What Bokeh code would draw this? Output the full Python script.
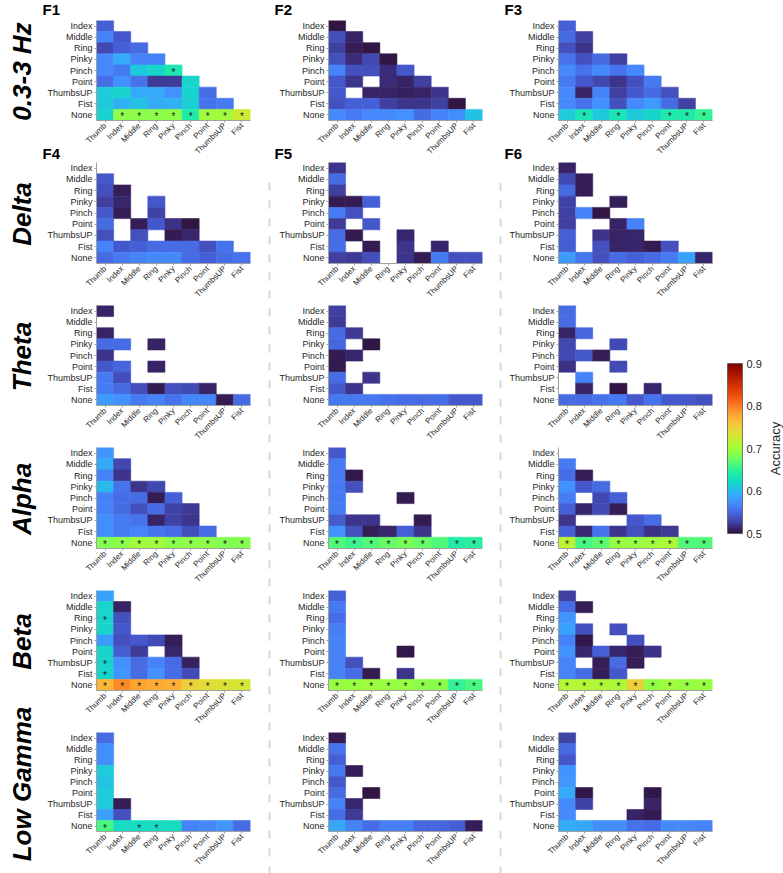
import math
from bokeh.plotting import figure
from bokeh.models import (ColumnDataSource, FactorRange, LinearColorMapper, ColorBar,
                          FixedTicker, Label, Range1d, Title)
from bokeh.layouts import row, column
from bokeh.palettes import Turbo256
from bokeh.core.properties import value
from bokeh.embed import file_html
from bokeh.resources import INLINE

# ---------------- data ----------------
ROWS = ["Index", "Middle", "Ring", "Pinky", "Pinch", "Point", "ThumbsUP", "Fist", "None"]
COLS = ["Thumb", "Index", "Middle", "Ring", "Pinky", "Pinch", "Point", "ThumbsUP", "Fist"]
BANDS = ["0.3-3 Hz", "Delta", "Theta", "Alpha", "Beta", "Low Gamma"]
PANEL_TAGS = [["F1", "F2", "F3"], ["F4", "F5", "F6"]]
CBAR_TICKS = [0.5, 0.6, 0.7, 0.8, 0.9]
CBAR_TITLE = "Accuracy"
N = None

slow_1 = [[0.545],
          [0.565, 0.540],
          [0.530, 0.545, 0.550],
          [0.570, 0.590, 0.565, 0.565],
          [0.570, 0.560, 0.610, 0.620, 0.638],
          [0.552, 0.575, 0.555, 0.522, 0.522, 0.620],
          [0.612, 0.620, 0.590, 0.590, 0.575, 0.618, 0.552],
          [0.610, 0.595, 0.605, 0.590, 0.595, 0.615, 0.555, 0.560],
          [0.618, 0.690, 0.690, 0.690, 0.690, 0.642, 0.700, 0.700, 0.725]]
slow_1_sig = [("Pinch", "Pinky"), ("None", "Index"), ("None", "Middle"), ("None", "Ring"),
              ("None", "Pinky"), ("None", "Pinch"), ("None", "Point"), ("None", "ThumbsUP"),
              ("None", "Fist")]

slow_2 = [[0.503],
          [0.535, 0.510],
          [0.525, 0.507, 0.503],
          [0.535, 0.515, 0.530, 0.502],
          [0.565, 0.535, 0.535, 0.515, 0.540],
          [0.540, 0.520, N, 0.515, 0.510, 0.525],
          [0.540, N, 0.510, 0.510, 0.508, 0.510, 0.520],
          [0.535, 0.545, 0.545, 0.525, 0.520, 0.520, 0.525, 0.503],
          [0.570, 0.560, 0.570, 0.570, 0.575, 0.550, 0.565, 0.572, 0.605]]
slow_2_sig = []

slow_3 = [[0.545],
          [0.550, 0.525],
          [0.535, 0.520, N],
          [0.555, 0.535, 0.550, 0.525],
          [0.570, 0.555, 0.570, 0.555, 0.570],
          [0.560, 0.540, 0.530, 0.520, 0.535, 0.560],
          [0.570, 0.510, 0.565, 0.525, 0.540, 0.550, 0.535],
          [0.570, 0.555, 0.575, 0.535, 0.570, 0.580, 0.550, 0.525],
          [0.612, 0.635, 0.610, 0.635, 0.610, 0.620, 0.640, 0.640, 0.652]]
slow_3_sig = [("None", "Index"), ("None", "Ring"), ("None", "Point"), ("None", "ThumbsUP"),
              ("None", "Fist")]

delta_1 = [[N],
           [0.540, N],
           [0.535, 0.507, N],
           [0.525, 0.512, N, 0.540],
           [0.540, 0.507, N, 0.528, N],
           [0.550, N, 0.507, 0.540, 0.518, 0.503],
           [0.535, N, 0.535, N, 0.505, 0.512, N],
           [0.565, 0.540, 0.545, 0.550, 0.550, 0.550, 0.535, 0.555],
           [0.550, 0.560, 0.565, 0.570, 0.570, 0.550, 0.545, 0.553, 0.556]]
delta_1_sig = []

delta_2 = [[0.520],
           [0.550, N],
           [0.525, N, N],
           [0.505, 0.505, 0.545, N],
           [0.560, 0.535, N, N, N],
           [0.522, N, 0.540, N, N, N],
           [0.553, 0.505, N, N, 0.512, N, N],
           [0.553, N, 0.505, N, 0.520, N, 0.512, N],
           [0.525, 0.522, 0.533, N, 0.520, 0.505, 0.560, 0.535, 0.535]]
delta_2_sig = []

delta_3 = [[0.510],
           [0.532, 0.507],
           [0.550, 0.507, N],
           [0.527, N, N, 0.507],
           [0.525, 0.565, 0.503, N, N],
           [0.525, N, N, 0.510, 0.565, N],
           [0.545, N, 0.520, 0.510, 0.512, N, N],
           [0.543, N, 0.535, 0.510, 0.512, 0.505, 0.535, N],
           [0.580, 0.557, 0.535, 0.550, 0.545, 0.550, 0.560, 0.585, 0.512]]
delta_3_sig = []

theta_1 = [[0.510],
           [N, N],
           [0.510, N, N],
           [0.553, 0.550, N, 0.510],
           [0.520, N, N, N, N],
           [0.540, 0.548, N, 0.510, N, N],
           [0.560, 0.533, N, N, N, N, N],
           [0.560, 0.550, 0.533, 0.505, 0.535, 0.532, 0.510, N],
           [0.580, 0.575, 0.560, 0.565, 0.556, 0.568, 0.568, 0.505, 0.550]]
theta_1_sig = []

theta_2 = [[0.525],
           [0.522, N],
           [0.550, 0.522, N],
           [0.548, N, 0.503, N],
           [0.506, 0.512, N, N, N],
           [0.506, N, N, N, N, N],
           [0.553, N, 0.520, N, N, N, N],
           [0.540, 0.520, N, N, N, N, N, N],
           [0.558, 0.558, 0.558, 0.555, 0.552, 0.550, 0.553, 0.540, 0.540]]
theta_2_sig = []

theta_3 = [[0.550],
           [0.553, N],
           [0.510, 0.547, N],
           [0.530, N, N, 0.532],
           [0.532, 0.540, 0.507, N, N],
           [0.518, N, N, 0.532, N, N],
           [N, 0.565, N, N, N, N, N],
           [N, 0.510, N, 0.503, N, 0.512, N, N],
           [0.550, 0.550, 0.556, 0.560, 0.540, 0.555, 0.540, 0.540, 0.535]]
theta_3_sig = []

alpha_1 = [[0.578],
           [0.590, 0.530],
           [0.565, 0.520, N],
           [0.600, 0.556, 0.520, 0.530],
           [0.565, 0.552, 0.550, 0.505, 0.545],
           [0.565, 0.550, 0.535, 0.550, 0.528, 0.522],
           [0.573, 0.560, 0.556, 0.510, 0.527, 0.520, N],
           [0.573, 0.560, 0.567, 0.557, 0.553, 0.533, 0.553, N],
           [0.685, 0.688, 0.700, 0.700, 0.688, 0.690, 0.690, 0.683, 0.685]]
alpha_1_sig = [("None", "Thumb"), ("None", "Index"), ("None", "Middle"), ("None", "Ring"),
               ("None", "Pinky"), ("None", "Pinch"), ("None", "Point"), ("None", "ThumbsUP"),
               ("None", "Fist")]

alpha_2 = [[0.540],
           [0.560, N],
           [0.560, 0.504, N],
           [0.560, 0.535, N, N],
           [0.560, N, N, N, 0.506],
           [0.560, N, N, N, N, N],
           [0.542, 0.520, 0.520, N, N, 0.505, N],
           [0.575, 0.535, 0.507, 0.512, 0.545, 0.520, N, N],
           [0.665, 0.655, 0.665, 0.672, 0.680, 0.672, 0.665, 0.642, 0.648]]
alpha_2_sig = [("None", "Thumb"), ("None", "Index"), ("None", "Middle"), ("None", "Ring"),
               ("None", "Pinky"), ("None", "Pinch"), ("None", "ThumbsUP"), ("None", "Fist")]

alpha_3 = [[N],
           [0.560, N],
           [0.552, 0.507, N],
           [0.575, 0.540, 0.550, N],
           [0.562, N, 0.530, 0.545, N],
           [0.545, 0.512, 0.532, 0.507, N, N],
           [0.520, N, N, N, 0.540, 0.550, N],
           [0.545, 0.513, 0.555, 0.520, 0.535, 0.518, 0.522, N],
           [0.715, 0.660, 0.670, 0.695, 0.695, 0.700, 0.705, 0.665, 0.665]]
alpha_3_sig = [("None", "Thumb"), ("None", "Index"), ("None", "Middle"), ("None", "Ring"),
               ("None", "Pinky"), ("None", "Pinch"), ("None", "Point"), ("None", "ThumbsUP"),
               ("None", "Fist")]

beta_1 = [[0.585],
          [0.620, 0.510],
          [0.620, 0.535, N],
          [0.620, 0.540, N, N],
          [0.580, 0.535, 0.540, 0.532, 0.507],
          [0.620, 0.543, 0.522, N, 0.512, N],
          [0.620, 0.575, 0.550, 0.565, 0.550, 0.508, N],
          [0.620, 0.578, 0.550, 0.575, 0.550, 0.532, N, N],
          [0.770, 0.795, 0.780, 0.775, 0.772, 0.750, 0.740, 0.735, 0.730]]
beta_1_sig = [("Ring", "Thumb"), ("ThumbsUP", "Thumb"), ("Fist", "Thumb"),
              ("None", "Thumb"), ("None", "Index"), ("None", "Middle"), ("None", "Ring"),
              ("None", "Pinky"), ("None", "Pinch"), ("None", "Point"), ("None", "ThumbsUP"),
              ("None", "Fist")]

beta_2 = [[0.545],
          [0.560, N],
          [0.552, N, N],
          [0.563, N, N, N],
          [0.565, N, N, N, N],
          [0.565, N, N, N, 0.504, N],
          [0.565, 0.535, N, N, N, N, N],
          [0.565, 0.553, 0.506, N, 0.520, N, N, N],
          [0.695, 0.695, 0.698, 0.695, 0.695, 0.688, 0.688, 0.650, 0.662]]
beta_2_sig = [("None", "Thumb"), ("None", "Index"), ("None", "Middle"), ("None", "Ring"),
              ("None", "Pinky"), ("None", "Pinch"), ("None", "Point"), ("None", "ThumbsUP"),
              ("None", "Fist")]

beta_3 = [[0.525],
          [0.553, 0.507],
          [0.578, N, N],
          [0.585, 0.535, N, 0.535],
          [0.565, 0.504, N, N, 0.535],
          [0.578, 0.512, 0.545, 0.512, 0.507, 0.518],
          [0.565, N, 0.507, 0.550, 0.507, N, N],
          [0.567, 0.550, 0.507, 0.540, N, N, N, N],
          [0.710, 0.710, 0.708, 0.705, 0.750, 0.692, 0.697, 0.695, 0.695]]
beta_3_sig = [("None", "Thumb"), ("None", "Index"), ("None", "Middle"), ("None", "Ring"),
              ("None", "Pinky"), ("None", "Pinch"), ("None", "Point"), ("None", "ThumbsUP"),
              ("None", "Fist")]

gamma_1 = [[0.550],
           [0.573, N],
           [0.573, N, N],
           [0.612, N, N, N],
           [0.605, N, N, N, N],
           [0.612, N, N, N, N, N],
           [0.612, 0.507, N, N, N, N, N],
           [0.583, 0.535, N, N, N, N, N, N],
           [0.660, 0.625, 0.625, 0.625, 0.625, 0.565, 0.570, 0.578, 0.550]]
gamma_1_sig = [("None", "Thumb"), ("None", "Middle"), ("None", "Ring")]

gamma_2 = [[0.505],
           [0.556, N],
           [0.545, N, N],
           [0.558, 0.507, N, N],
           [0.540, N, N, N, N],
           [0.550, N, 0.503, N, N, N],
           [0.565, 0.512, N, N, N, N, N],
           [0.553, 0.522, N, N, N, N, N, N],
           [0.588, 0.565, 0.553, 0.563, 0.563, 0.548, 0.548, 0.543, 0.507]]
gamma_2_sig = []

gamma_3 = [[0.527],
           [0.550, N],
           [0.540, N, N],
           [0.578, N, N, N],
           [0.578, N, N, N, N],
           [0.590, 0.504, N, N, N, 0.504],
           [0.570, 0.527, N, N, N, 0.510, N],
           [0.570, N, N, N, 0.510, 0.506, N, N],
           [0.592, 0.588, 0.572, 0.572, 0.555, 0.552, 0.570, 0.570, 0.565]]
gamma_3_sig = []

PANELS = [[(slow_1, slow_1_sig), (slow_2, slow_2_sig), (slow_3, slow_3_sig)],
          [(delta_1, delta_1_sig), (delta_2, delta_2_sig), (delta_3, delta_3_sig)],
          [(theta_1, theta_1_sig), (theta_2, theta_2_sig), (theta_3, theta_3_sig)],
          [(alpha_1, alpha_1_sig), (alpha_2, alpha_2_sig), (alpha_3, alpha_3_sig)],
          [(beta_1, beta_1_sig), (beta_2, beta_2_sig), (beta_3, beta_3_sig)],
          [(gamma_1, gamma_1_sig), (gamma_2, gamma_2_sig), (gamma_3, gamma_3_sig)]]

# ---------------- layout constants ----------------
FONT = "Liberation Sans"
TXT = "#262626"
ROW_FIG_H = [162, 143, 142, 143, 142, 141]
ROW_TOP = [20, 0, 0, 0, 0, 0]
ROW_FRAME_H = [102, 103, 102, 103, 102, 103]
COL_FIG_W = [226, 224, 218]
COL_LEFT = [56, 56, 54]
FRAME_W = 154
TITLE_W = 40
SEP_W = [6, 8]
CBAR_W = 61
TOTAL_H = sum(ROW_FIG_H)

mapper = LinearColorMapper(palette=Turbo256, low=0.5, high=0.9)


def tag_title(text, standoff, valign):
    return Title(text=text, align="left", offset=-54, standoff=standoff, vertical_align=valign,
                 text_font=FONT, text_font_style="bold", text_font_size="15px",
                 text_color="#000000")


def make_panel(ri, ci):
    vals, sig = PANELS[ri][ci]
    xs, ys, acc = [], [], []
    for i, rname in enumerate(ROWS):
        for j, v in enumerate(vals[i]):
            if v is not None:
                xs.append(COLS[j])
                ys.append(rname)
                acc.append(v)
    src = ColumnDataSource(dict(x=xs, y=ys, acc=acc))
    bottom = ROW_FIG_H[ri] - ROW_TOP[ri] - ROW_FRAME_H[ri]
    p = figure(width=COL_FIG_W[ci], height=ROW_FIG_H[ri],
               x_range=FactorRange(factors=COLS), y_range=FactorRange(factors=ROWS[::-1]),
               output_backend="svg", toolbar_location=None,
               min_border_left=COL_LEFT[ci], min_border_right=COL_FIG_W[ci] - COL_LEFT[ci] - FRAME_W,
               min_border_top=ROW_TOP[ri], min_border_bottom=bottom)
    p.outline_line_color = None
    p.xgrid.visible = False
    p.ygrid.visible = False
    p.rect(x="x", y="y", width=1, height=1, source=src,
           fill_color={"field": "acc", "transform": mapper},
           line_color={"field": "acc", "transform": mapper}, line_width=0.6)
    if sig:
        ssrc = ColumnDataSource(dict(x=[s[1] for s in sig], y=[s[0] for s in sig],
                                     t=["*"] * len(sig)))
        p.text(x="x", y="y", text="t", source=ssrc, text_align="center",
               text_baseline="middle", text_font=value(FONT), text_font_size="10px",
               text_color="#1a1a1a", y_offset=2)
    for ax in (p.xaxis[0], p.yaxis[0]):
        ax.axis_line_color = "#a0a0a0"
        ax.axis_line_width = 1
        ax.major_tick_line_color = "#a0a0a0"
        ax.major_tick_in = 0
        ax.major_tick_out = 2
        ax.minor_tick_line_color = None
        ax.major_label_standoff = 2
        ax.major_label_text_color = TXT
        ax.major_label_text_font = FONT
    p.yaxis.major_label_text_font_size = "9px"
    p.xaxis.major_label_text_font_size = "8px"
    p.xaxis.major_label_orientation = math.pi / 4
    if ri == 0:
        # panel tags of the first two rows sit in the first row's borders
        p.add_layout(tag_title(PANEL_TAGS[0][ci], 1, "top"), "above")
        p.add_layout(tag_title(PANEL_TAGS[1][ci], -36, "top"), "below")
    return p


figs = [[make_panel(ri, ci) for ci in range(3)] for ri in range(6)]
cols = [column(*[figs[ri][ci] for ri in range(6)], spacing=0) for ci in range(3)]


def strip(width, x_end):
    s = figure(width=width, height=TOTAL_H, x_range=Range1d(0, x_end),
               y_range=Range1d(TOTAL_H, 0), output_backend="svg", toolbar_location=None,
               x_axis_location=None, y_axis_location=None,
               min_border_left=0, min_border_right=0, min_border_top=0, min_border_bottom=0)
    s.outline_line_color = None
    s.grid.visible = False
    return s


# band titles
tfig = strip(TITLE_W, TITLE_W)
ytop = 0
for ri, band in enumerate(BANDS):
    yc = ytop + ROW_TOP[ri] + ROW_FRAME_H[ri] / 2
    tfig.add_layout(Label(x=21, y=yc, text=band, angle=math.pi / 2, text_align="center",
                          text_baseline="middle", text_font=FONT,
                          text_font_style="bold italic", text_font_size="26px",
                          text_color="#000000"))
    ytop += ROW_FIG_H[ri]

# dashed separators
seps = []
sep_start = ROW_FIG_H[0] + 20
for w in SEP_W:
    s = strip(w, w)
    s.segment(x0=[w / 2], y0=[sep_start], x1=[w / 2], y1=[TOTAL_H], line_color="#d6d6d6",
              line_width=2, line_dash="8 10")
    seps.append(s)

# colour bar
CB_TOP = 363
CB_H = 170
cfig = strip(CBAR_W, CBAR_W)
cb = ColorBar(color_mapper=mapper, ticker=FixedTicker(ticks=CBAR_TICKS),
              location=(5, TOTAL_H - CB_TOP - CB_H),
              orientation="vertical", width=15, height=CB_H, margin=0, padding=0,
              label_standoff=4, major_label_text_font_size="11px",
              major_label_text_font=FONT, major_label_text_color=TXT,
              bar_line_color="#555555", bar_line_width=0.8,
              major_tick_line_color=None, minor_tick_line_color=None)
cfig.add_layout(cb, "center")
cfig.add_layout(Label(x=53, y=CB_TOP + CB_H / 2, text=CBAR_TITLE, angle=math.pi / 2,
                      text_align="center", text_baseline="middle", text_font=FONT,
                      text_font_size="13px", text_color=TXT))

layout = row(tfig, cols[0], seps[0], cols[1], seps[1], cols[2], cfig, spacing=0)

open("out.html", "w").write(file_html(layout, INLINE))
